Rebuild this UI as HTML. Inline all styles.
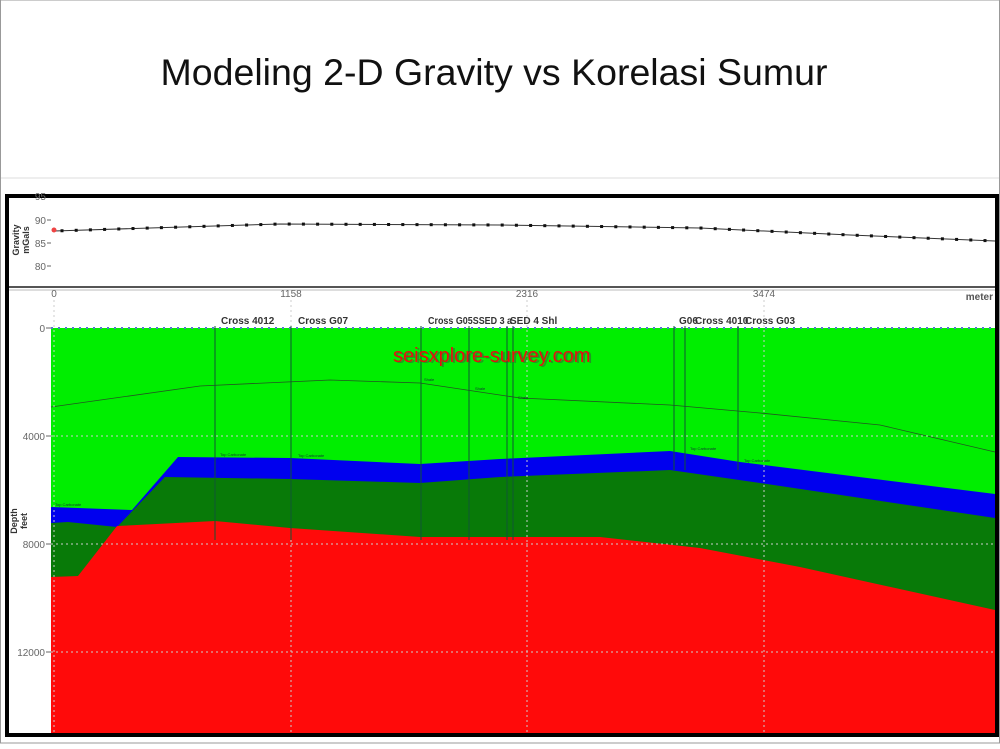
<!DOCTYPE html>
<html><head><meta charset="utf-8"><style>
body{margin:0;width:1000px;height:744px;overflow:hidden;background:#fff;font-family:"Liberation Sans",sans-serif}
</style></head><body>
<svg width="1000" height="744" xmlns="http://www.w3.org/2000/svg" font-family="Liberation Sans, sans-serif">
<rect width="1000" height="744" fill="#fff"/>
<line x1="0" y1="178" x2="1000" y2="178" stroke="#ddd" stroke-width="1"/>
<rect x="0.5" y="0" width="999" height="743" fill="none" stroke="#999" stroke-width="1"/>
<text x="494" y="85" font-size="37.5" text-anchor="middle" fill="#111">Modeling 2-D Gravity vs Korelasi Sumur</text>
<!-- frame -->
<rect x="7" y="196" width="990" height="539" fill="#fff" stroke="#000" stroke-width="4"/>
<!-- gravity panel -->
<g font-size="10" fill="#666" text-anchor="end">
<text x="46" y="200">95</text><text x="46" y="224">90</text><text x="46" y="247">85</text><text x="46" y="270">80</text>
</g>
<g stroke="#666"><line x1="47" y1="220" x2="51" y2="220"/><line x1="47" y1="243" x2="51" y2="243"/><line x1="47" y1="266" x2="51" y2="266"/></g>
<text transform="translate(19,240) rotate(-90)" font-size="9" font-weight="bold" fill="#333" text-anchor="middle">Gravity</text>
<text transform="translate(29,240) rotate(-90)" font-size="9" font-weight="bold" fill="#333" text-anchor="middle">mGals</text>
<polyline points="54,231 150,228 280,224 500,225 700,228 850,235 995,241" fill="none" stroke="#333" stroke-width="1"/>
<g id="dots" fill="#111"></g>
<circle cx="54" cy="230" r="2.5" fill="#e44"/>
<line x1="9" y1="287" x2="995" y2="287" stroke="#555" stroke-width="2"/>
<line x1="9" y1="290" x2="995" y2="290" stroke="#bbb" stroke-width="1"/>
<!-- x axis -->
<g font-size="10" fill="#666" text-anchor="middle">
<text x="54" y="297">0</text><text x="291" y="297">1158</text><text x="527" y="297">2316</text><text x="764" y="297">3474</text>
</g>
<text x="993" y="300" font-size="10" font-weight="bold" fill="#555" text-anchor="end">meter</text>
<!-- layers -->
<rect x="51" y="328" width="944" height="405" fill="#00ee00"/>
<polygon points="51,507 132,510 178,457 290,458 420,464 500,459 670,451 740,462 995,494 995,733 51,733" fill="#0000ee"/>
<polygon points="51,523 68,522 117,527 165,477 290,479 420,483 500,477 670,470 760,483 995,518 995,733 51,733" fill="#087a08"/>
<polygon points="51,577 78,576 117,526 215,521 290,528 420,537 600,537 700,548 800,567 995,610 995,733 51,733" fill="#ff0a0a"/>
<polyline points="51,407 200,386 330,380 420,383 520,398 670,405 760,413 880,425 995,452" fill="none" stroke="#225522" stroke-width="0.8"/>
<!-- grid -->
<g stroke="#ccc" stroke-dasharray="2,3" stroke-width="1">
<line x1="51" y1="436" x2="995" y2="436"/><line x1="51" y1="544" x2="995" y2="544"/><line x1="51" y1="652" x2="995" y2="652"/>
<line x1="54" y1="300" x2="54" y2="733"/><line x1="291" y1="300" x2="291" y2="733"/><line x1="527" y1="300" x2="527" y2="733"/><line x1="764" y1="300" x2="764" y2="733"/>
</g>
<line x1="51" y1="328" x2="995" y2="328" stroke="#5577cc" stroke-dasharray="2,5" stroke-width="2"/>
<!-- wells -->
<g stroke="#153" stroke-width="1">
<line x1="215" y1="326" x2="215" y2="540"/><line x1="291" y1="326" x2="291" y2="540"/><line x1="421" y1="326" x2="421" y2="540"/>
<line x1="469" y1="326" x2="469" y2="540"/><line x1="507" y1="326" x2="507" y2="540"/><line x1="513" y1="326" x2="513" y2="540"/>
<line x1="674" y1="326" x2="674" y2="470"/><line x1="685" y1="326" x2="685" y2="470"/><line x1="738" y1="326" x2="738" y2="470"/>
</g>
<g font-size="10" font-weight="bold" fill="#333">
<text x="221" y="324">Cross 4012</text><text x="298" y="324">Cross G07</text>
<text x="428" y="324" textLength="84" lengthAdjust="spacingAndGlyphs">Cross G05SSED 3 a</text><text x="510" y="324">SED 4 Shl</text>
<text x="679" y="324">G06</text><text x="695" y="324">Cross 4010</text><text x="745" y="324">Cross G03</text>
</g>
<g font-size="4" fill="#133">
<text x="424" y="381">Shale</text><text x="475" y="390">Shale</text><text x="518" y="399">Shale</text>
<text x="220" y="456">Top Carbonate</text><text x="298" y="457">Top Carbonate</text><text x="690" y="450">Top Carbonate</text><text x="744" y="462">Top Carbonate</text>
<text x="55" y="506">Top Carbonate</text>
</g>
<text x="395" y="363" font-size="20" fill="#444" opacity="0.5">seisxplore-survey.com</text>
<text x="393" y="362" font-size="20" fill="#e41010">seisxplore-survey.com</text>
<!-- depth axis -->
<g font-size="10" fill="#666" text-anchor="end">
<text x="45" y="332">0</text><text x="45" y="440">4000</text><text x="45" y="548">8000</text><text x="45" y="656">12000</text>
</g>
<g stroke="#666"><line x1="46" y1="328" x2="51" y2="328"/><line x1="46" y1="436" x2="51" y2="436"/><line x1="46" y1="544" x2="51" y2="544"/><line x1="46" y1="652" x2="51" y2="652"/></g>
<text transform="translate(17,521) rotate(-90)" font-size="9" font-weight="bold" fill="#333" text-anchor="middle">Depth</text>
<text transform="translate(27,521) rotate(-90)" font-size="9" font-weight="bold" fill="#333" text-anchor="middle">feet</text>
</svg>
<script>
var g=document.getElementById('dots');
var pts=[[54,231],[150,228],[280,224],[500,225],[700,228],[850,235],[995,241]];
function yAt(x){for(var i=0;i<pts.length-1;i++){if(x<=pts[i+1][0]){var t=(x-pts[i][0])/(pts[i+1][0]-pts[i][0]);return pts[i][1]+t*(pts[i+1][1]-pts[i][1]);}}return 241;}
var s='';for(var x=62;x<=995;x+=14.2){s+='<rect x="'+(x-1.5)+'" y="'+(yAt(x)-1.5)+'" width="3" height="3"/>';}
g.innerHTML=s;
</script>
</body></html>
